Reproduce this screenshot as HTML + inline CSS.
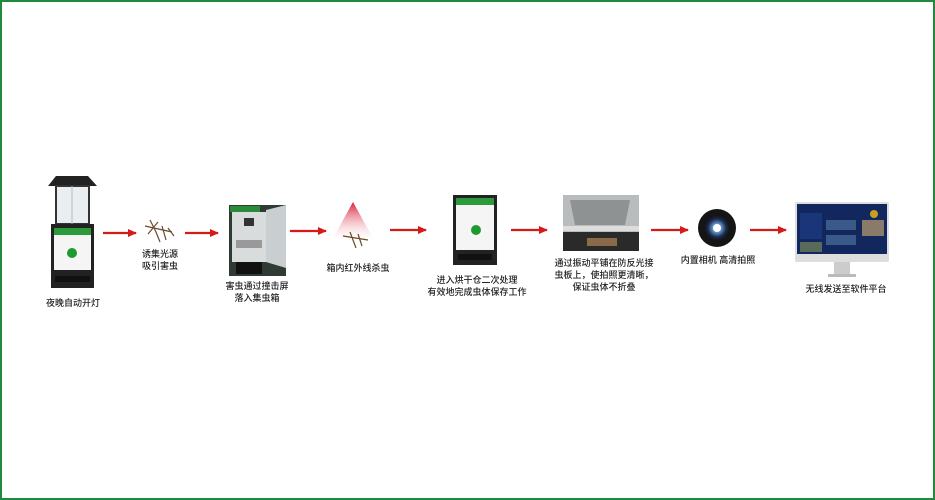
<!DOCTYPE html>
<html><head><meta charset="utf-8"><style>
body{margin:0;width:935px;height:500px;background:#fff;position:relative;overflow:hidden;font-family:"Liberation Sans","Noto Sans CJK SC",sans-serif}
.frame{position:absolute;left:0;top:0;width:931px;height:496px;border:2px solid #1e8a3c}
.t{position:absolute;font-size:9px;color:#222;text-align:center;line-height:12px;white-space:nowrap;transform:translateX(-50%);font-weight:500}
svg{position:absolute;left:0;top:0}
</style></head><body>
<div class="frame"></div>
<svg width="935" height="500">
<defs>
<linearGradient id="tri" x1="0" y1="0" x2="0" y2="1"><stop offset="0" stop-color="#d8203a"/><stop offset="1" stop-color="#fff" stop-opacity="0.2"/></linearGradient>
<radialGradient id="lens"><stop offset="0" stop-color="#fff"/><stop offset="0.3" stop-color="#6aa0d8"/><stop offset="0.7" stop-color="#1b2a4a"/><stop offset="1" stop-color="#111"/></radialGradient>
<marker id="ah" markerUnits="userSpaceOnUse" markerWidth="9" markerHeight="8" refX="8" refY="4" orient="auto"><path d="M0,0L9,4L0,8z" fill="#d61a1a"/></marker>
</defs>
<g stroke="#d61a1a" stroke-width="2.2" marker-end="url(#ah)">
<line x1="103" y1="233" x2="136" y2="233"/><line x1="185" y1="233" x2="218" y2="233"/>
<line x1="290" y1="231" x2="326" y2="231"/><line x1="390" y1="230" x2="426" y2="230"/>
<line x1="511" y1="230" x2="547" y2="230"/><line x1="651" y1="230" x2="688" y2="230"/>
<line x1="750" y1="230" x2="786" y2="230"/>
</g>
<!-- device1 -->
<path d="M48,186 L56,176 L88,176 L97,186 Z" fill="#222"/>
<rect x="56" y="186" width="33" height="38" fill="#e9eef0" stroke="#333" stroke-width="2"/>
<line x1="72" y1="186" x2="72" y2="224" stroke="#bbb"/>
<rect x="51" y="224" width="43" height="64" fill="#222"/>
<rect x="54" y="228" width="37" height="7" fill="#2a9a3a"/>
<rect x="54" y="235" width="37" height="35" fill="#f5f5f5"/>
<circle cx="72" cy="253" r="5" fill="#1f9a2f"/>
<rect x="55" y="276" width="35" height="6" fill="#111"/>
<!-- mosquito1 -->
<g stroke="#6b4a2a" stroke-width="1.2" fill="none"><path d="M145,226 L172,232"/><path d="M150,220 L156,232 L160,242 M162,226 L166,240 M158,222 L148,234 M168,228 L174,236"/></g>
<!-- photo -->
<rect x="229" y="205" width="57" height="71" fill="#2f3a33"/>
<rect x="232" y="212" width="34" height="50" fill="#d8dcdc"/>
<rect x="230" y="206" width="30" height="6" fill="#2a8a3a"/>
<rect x="244" y="218" width="10" height="8" fill="#333"/>
<rect x="236" y="240" width="26" height="8" fill="#999"/>
<path d="M266,210 L286,205 L286,268 L266,262 Z" fill="#c9ced0"/>
<rect x="236" y="262" width="26" height="12" fill="#111"/>
<!-- triangle -->
<path d="M353,202 L332,240 L374,240 Z" fill="url(#tri)"/>
<g stroke="#6b4a2a" stroke-width="1.2" fill="none"><path d="M343,236 L368,240 M350,232 L356,248 M358,234 L362,246"/></g>
<!-- device2 -->
<rect x="453" y="195" width="44" height="70" fill="#222"/>
<rect x="456" y="198" width="38" height="7" fill="#2a9a3a"/>
<rect x="456" y="205" width="38" height="45" fill="#f5f5f5"/>
<circle cx="476" cy="230" r="5" fill="#1f9a2f"/>
<rect x="458" y="254" width="34" height="6" fill="#111"/>
<!-- tray -->
<rect x="563" y="195" width="76" height="56" fill="#b8bcbc"/>
<path d="M570,200 L630,200 L625,225 L575,225 Z" fill="#8e9292"/>
<rect x="563" y="232" width="76" height="19" fill="#2a2a2a"/>
<rect x="587" y="238" width="30" height="8" fill="#8a6a48"/>
<rect x="563" y="226" width="76" height="5" fill="#ddd"/>
<!-- camera -->
<circle cx="717" cy="228" r="19" fill="#151515"/>
<circle cx="717" cy="228" r="13" fill="url(#lens)"/>
<circle cx="717" cy="228" r="4" fill="#fff"/>
<!-- monitor -->
<rect x="795" y="202" width="94" height="60" rx="2" fill="#ddd"/>
<rect x="797" y="204" width="90" height="50" fill="#12275e"/>
<rect x="800" y="213" width="22" height="26" fill="#1a3578"/>
<rect x="800" y="242" width="22" height="10" fill="#5a6a5a"/>
<rect x="826" y="220" width="30" height="10" fill="#3a5a8a"/>
<rect x="826" y="235" width="30" height="10" fill="#3a5a8a"/>
<rect x="862" y="220" width="22" height="16" fill="#8a7a6a"/>
<circle cx="874" cy="214" r="4" fill="#c8a020"/>
<rect x="834" y="262" width="16" height="12" fill="#ccc"/>
<rect x="828" y="274" width="28" height="3" fill="#bbb"/>
</svg>
<div class="t" style="left:73px;top:297px">夜晚自动开灯</div>
<div class="t" style="left:160px;top:248px">诱集光源<br>吸引害虫</div>
<div class="t" style="left:257px;top:280px">害虫通过撞击屏<br>落入集虫箱</div>
<div class="t" style="left:358px;top:262px">箱内红外线杀虫</div>
<div class="t" style="left:477px;top:274px">进入烘干仓二次处理<br>有效地完成虫体保存工作</div>
<div class="t" style="left:604px;top:257px">通过振动平铺在防反光接<br>虫板上，使拍照更清晰，<br>保证虫体不折叠</div>
<div class="t" style="left:718px;top:254px">内置相机 高清拍照</div>
<div class="t" style="left:846px;top:283px">无线发送至软件平台</div>
</body></html>
